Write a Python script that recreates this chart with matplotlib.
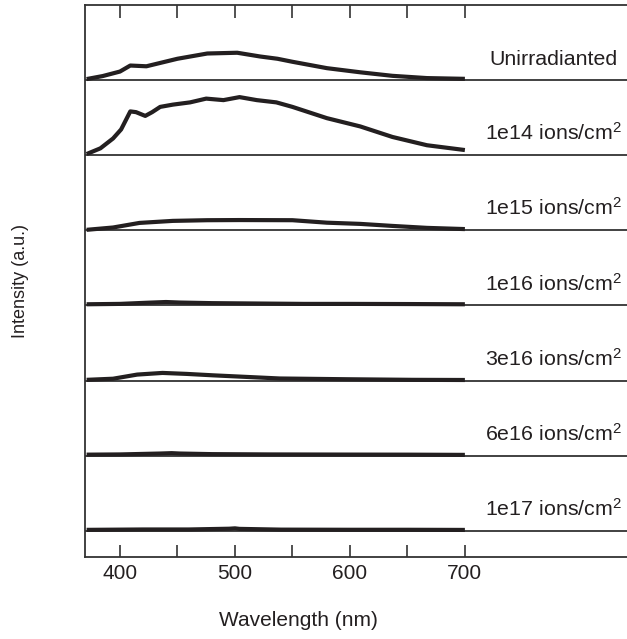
import matplotlib
matplotlib.use('Agg')
import matplotlib.pyplot as plt
import numpy as np

plt.rcParams['font.family'] = ['Liberation Sans', 'DejaVu Sans']
plt.rcParams['mathtext.default'] = 'regular'

ink = '#231f20'

# spectra: wavelength (nm) and intensity (panel units)
labels = ['Unirradianted', '1e14 ions/cm$^{2}$', '1e15 ions/cm$^{2}$',
          '1e16 ions/cm$^{2}$', '3e16 ions/cm$^{2}$', '6e16 ions/cm$^{2}$',
          '1e17 ions/cm$^{2}$']

wl_unirr = [371, 385, 400, 409, 423, 450, 476, 502, 522, 537, 550, 580, 609, 637, 667, 700]
i_unirr = [0.01, 0.05, 0.11, 0.19, 0.18, 0.28, 0.35, 0.36, 0.31, 0.28, 0.24, 0.155, 0.10, 0.053, 0.023, 0.013]

wl_1e14 = [371, 383, 394, 401, 409, 414, 422, 428, 435, 446, 461, 475, 490, 504, 519, 536,
           550, 580, 609, 637, 667, 700]
i_1e14 = [0.013, 0.089, 0.22, 0.34, 0.58, 0.57, 0.52, 0.57, 0.64, 0.67, 0.70, 0.75, 0.73, 0.77,
          0.73, 0.70, 0.64, 0.49, 0.38, 0.24, 0.13, 0.066]

wl_1e15 = [371, 394, 417, 446, 476, 504, 550, 580, 609, 637, 667, 700]
i_1e15 = [0.005, 0.036, 0.097, 0.124, 0.133, 0.135, 0.133, 0.10, 0.084, 0.057, 0.031, 0.015]

wl_1e16 = [371, 400, 423, 440, 452, 480, 520, 560, 600, 650, 700]
i_1e16 = [0.015, 0.02, 0.035, 0.045, 0.038, 0.03, 0.025, 0.02, 0.02, 0.018, 0.015]

wl_3e16 = [371, 394, 415, 437, 458, 481, 510, 539, 597, 655, 700]
i_3e16 = [0.01, 0.025, 0.08, 0.102, 0.089, 0.07, 0.049, 0.028, 0.018, 0.01, 0.008]

wl_6e16 = [371, 400, 435, 445, 452, 480, 530, 600, 650, 700]
i_6e16 = [0.015, 0.018, 0.03, 0.035, 0.03, 0.022, 0.018, 0.016, 0.015, 0.012]

wl_1e17 = [371, 420, 460, 495, 500, 504, 540, 600, 650, 700]
i_1e17 = [0.015, 0.02, 0.02, 0.03, 0.035, 0.028, 0.018, 0.016, 0.016, 0.014]

spectra = [(wl_unirr, i_unirr), (wl_1e14, i_1e14), (wl_1e15, i_1e15), (wl_1e16, i_1e16),
           (wl_3e16, i_3e16), (wl_6e16, i_6e16), (wl_1e17, i_1e17)]

fig = plt.figure(figsize=(6.27, 6.39), dpi=100)
ax = fig.add_axes([85 / 627, 1 - 557 / 639, 1 - 85 / 627, 552 / 639])

n = len(spectra)
for k, ((wl, inten), lab) in enumerate(zip(spectra, labels)):
    base = n - 1 - k
    ax.axhline(base, color='#333333', lw=1.3, zorder=1)
    ax.plot(wl, np.array(inten) + base, color=ink, lw=3, zorder=2,
            solid_capstyle='butt')
    xr = 0.982 if k == 0 else 0.991
    ax.text(xr, base + 0.2, lab, transform=ax.get_yaxis_transform(),
            ha='right', va='baseline', fontsize=15.4, color=ink)

ax.set_xlim(369.6, 841)
ax.set_ylim(-0.346, 6.995)

ax.set_xticks([400, 500, 600, 700])
ax.set_xticks([450, 550, 650], minor=True)
ax.tick_params(axis='x', which='both', direction='in', top=True, bottom=True,
               length=9, width=1.2, color='#333333', labelsize=15,
               labelcolor=ink, pad=5)
ax.set_yticks([])
ax.spines['right'].set_visible(False)
for s in ['left', 'top', 'bottom']:
    ax.spines[s].set_color('#333333')
    ax.spines[s].set_linewidth(1.3)

fig.text(298 / 627, 1 - 621 / 639, 'Wavelength (nm)', ha='center', va='center',
         fontsize=15, color=ink)
fig.text(21 / 627, 1 - 281 / 639, 'Intensity (a.u.)', ha='center', va='center',
         rotation=90, fontsize=13, color=ink)

fig.savefig('out.png', dpi=100)
